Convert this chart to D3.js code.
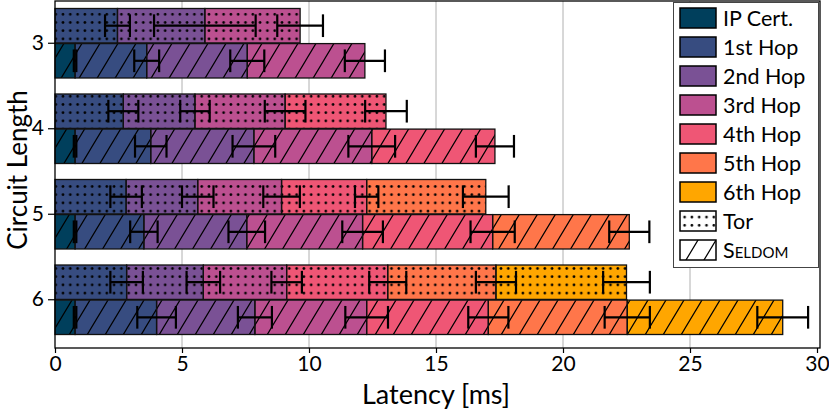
<!DOCTYPE html>
<html><head><meta charset="utf-8">
<script src="https://cdn.jsdelivr.net/npm/d3@7"></script>
<style>
html,body{margin:0;padding:0;background:#fff;}
svg{display:block;font-family:"Lato","Noto Sans",sans-serif;}
</style></head>
<body><svg id="chart" width="829" height="412"></svg>
<script>
const circuits = ["3", "4", "5", "6"];
const segmentNames = ["IP Cert.", "1st Hop", "2nd Hop", "3rd Hop", "4th Hop", "5th Hop", "6th Hop"];
const segmentColors = ["#003f5c", "#374c80", "#7a5195", "#bc5090", "#ef5675", "#ff764a", "#ffa600"];
const xTicks = [0, 5, 10, 15, 20, 25, 30];
// cumulative end of each segment (ms); Tor bars start at the 1st hop
const torEnds = [
  [2.46, 5.90, 9.65],
  [2.69, 5.51, 9.06, 13.03],
  [2.80, 5.62, 8.92, 12.27, 16.96],
  [2.82, 5.84, 9.12, 13.10, 17.36, 22.50]
];
const torErr = [
  [0.49, 2.00, 0.90],
  [0.59, 0.58, 0.80, 0.82],
  [0.62, 0.62, 0.72, 0.46, 0.90],
  [0.64, 0.66, 0.60, 0.73, 0.79, 0.92]
];
// Seldom bars start with the IP certificate
const seldomEnds = [
  [0.79, 3.61, 7.57, 12.20],
  [0.79, 3.77, 7.83, 12.47, 17.32],
  [0.79, 3.50, 7.55, 12.11, 17.23, 22.61],
  [0.79, 4.00, 7.87, 12.27, 17.06, 22.53, 28.65]
];
const seldomErr = [
  [0.05, 0.49, 0.67, 0.79],
  [0.05, 0.62, 0.84, 0.92, 0.75],
  [0.05, 0.54, 0.72, 0.80, 0.87, 0.79],
  [0.05, 0.76, 0.67, 0.84, 0.79, 0.89, 1.00]
];
const systems = ["Tor", "Seldom"];

const svg = d3.select("#chart");
const L = 55, R = 820, T = 1, B = 348;
const x = d3.scaleLinear().domain([0, 30]).range([L, R - 3]);
const y = d3.scaleBand().domain(circuits).range([0.5, 342.5]);
const sub = d3.scaleBand().domain(systems).range([8, y.bandwidth() - 8]).paddingInner(0.02);

const defs = svg.append("defs");
const dots = defs.append("pattern").attr("id", "dots").attr("patternUnits", "userSpaceOnUse")
  .attr("width", 7.3).attr("height", 8.2).attr("x", 1).attr("y", 2);
dots.append("circle").attr("cx", 3.6).attr("cy", 4.1).attr("r", 1.35).attr("fill", "#000");
const hatch = defs.append("pattern").attr("id", "hatch").attr("patternUnits", "userSpaceOnUse")
  .attr("width", 18).attr("height", 30);
hatch.append("path").attr("d", "M-9,45 L27,-15 M-27,45 L9,-15 M9,45 L45,-15")
  .attr("stroke", "#000").attr("stroke-width", 1.2).attr("fill", "none");
const patternOf = {Tor: "url(#dots)", Seldom: "url(#hatch)"};

// grid
svg.append("g").selectAll("line").data(xTicks.filter(t => t > 0 && t < 30)).join("line")
  .attr("x1", d => x(d)).attr("x2", d => x(d)).attr("y1", T).attr("y2", B)
  .attr("stroke", "#b0b0b0").attr("stroke-width", 1);

// bars
function segs(ends, errs, offset) {
  return ends.map((e, i) => ({start: i === 0 ? 0 : ends[i - 1], end: e, err: errs[i], color: segmentColors[i + offset]}));
}
const rows = [];
circuits.forEach((c, ci) => {
  rows.push({c, sys: "Tor", segs: segs(torEnds[ci], torErr[ci], 1)});
  rows.push({c, sys: "Seldom", segs: segs(seldomEnds[ci], seldomErr[ci], 0)});
});
const gBars = svg.append("g");
rows.forEach(r => {
  const y0 = y(r.c) + sub(r.sys), h = sub.bandwidth();
  const g = gBars.append("g");
  g.selectAll("rect.f").data(r.segs).join("rect").attr("class", "f")
    .attr("x", d => x(d.start)).attr("width", d => x(d.end) - x(d.start))
    .attr("y", y0).attr("height", h).attr("fill", d => d.color);
  g.selectAll("rect.p").data(r.segs).join("rect").attr("class", "p")
    .attr("x", d => x(d.start)).attr("width", d => x(d.end) - x(d.start))
    .attr("y", y0).attr("height", h).attr("fill", patternOf[r.sys])
    .attr("stroke", "#111").attr("stroke-width", 1.3);
  const eb = g.selectAll("g.e").data(r.segs).join("g").attr("class", "e")
    .attr("stroke", "#000").attr("stroke-width", 2.2);
  const cy = y0 + h / 2, ch = h * 0.33;
  eb.append("line").attr("x1", d => x(d.end - d.err)).attr("x2", d => x(d.end + d.err)).attr("y1", cy).attr("y2", cy);
  eb.append("line").attr("x1", d => x(d.end - d.err)).attr("x2", d => x(d.end - d.err)).attr("y1", cy - ch).attr("y2", cy + ch);
  eb.append("line").attr("x1", d => x(d.end + d.err)).attr("x2", d => x(d.end + d.err)).attr("y1", cy - ch).attr("y2", cy + ch);
});

// frame
svg.append("rect").attr("x", L).attr("y", T).attr("width", R - L).attr("height", B - T)
  .attr("fill", "none").attr("stroke", "#000").attr("stroke-width", 1.3);

// axes
const xAxis = svg.append("g").attr("transform", `translate(0,${B})`)
  .call(d3.axisBottom(x).tickValues(xTicks).tickSize(5).tickPadding(3).tickFormat(d3.format("d")));
xAxis.select(".domain").remove();
xAxis.selectAll("text").attr("font-size", 21).attr("fill", "#000").attr("font-family", "Lato");
xAxis.selectAll("line").attr("stroke", "#000").attr("stroke-width", 1.2);
const yAxis = svg.append("g").attr("transform", `translate(${L},0)`)
  .call(d3.axisLeft(y).tickSize(7).tickPadding(4));
yAxis.select(".domain").remove();
yAxis.selectAll("text").attr("font-size", 21).attr("fill", "#000").attr("font-family", "Lato");
yAxis.selectAll("line").attr("stroke", "#000").attr("stroke-width", 1.2);

svg.append("text").attr("x", x(15)).attr("y", 404).attr("text-anchor", "middle")
  .attr("font-size", 27).text("Latency [ms]");
svg.append("text").attr("transform", `translate(27,${170}) rotate(-90)`).attr("text-anchor", "middle")
  .attr("font-size", 26).text("Circuit Length");

// legend
const leg = svg.append("g");
leg.append("rect").attr("x", 673.5).attr("y", 2.5).attr("width", 145).attr("height", 265)
  .attr("fill", "#fff").attr("stroke", "#444").attr("stroke-width", 1);
const legItems = segmentNames.map((n, i) => ({label: n, fill: segmentColors[i], pat: null}))
  .concat([{label: "Tor", fill: "#fff", pat: "url(#dots)"}, {label: "Seldom", fill: "#fff", pat: "url(#hatch)", sc: true}]);
const li = leg.selectAll("g.li").data(legItems).join("g").attr("class", "li")
  .attr("transform", (d, i) => `translate(680,${8 + i * 29})`);
li.append("rect").attr("width", 36).attr("height", 20).attr("fill", d => d.fill);
li.append("rect").attr("width", 36).attr("height", 20).attr("fill", d => d.pat || "none")
  .attr("stroke", "#000").attr("stroke-width", 1.5);
li.append("text").attr("x", 43).attr("y", 18).attr("font-size", 21.5)
  .style("font-variant", d => d.sc ? "small-caps" : "normal").text(d => d.label);
</script></body></html>
